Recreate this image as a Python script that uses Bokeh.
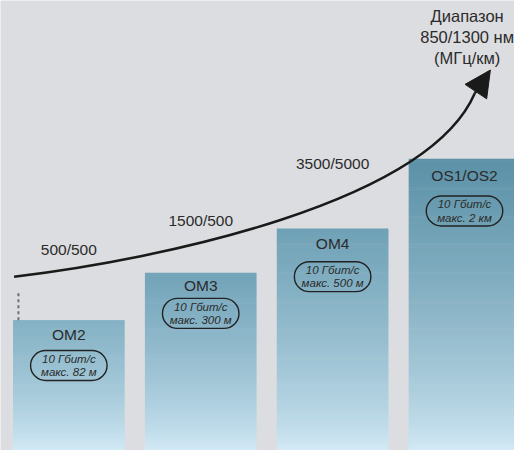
from bokeh.plotting import figure
from bokeh.models import Range1d, Arrow, NormalHead, ColumnDataSource
from bokeh.core.properties import value
from bokeh.embed import file_html
from bokeh.resources import INLINE

# ---------------- data ----------------
categories = ["OM2", "OM3", "OM4", "OS1/OS2"]
bar_heights = [135, 184, 230, 302]
bandwidth = ["500/500", "1500/500", "3500/5000"]
rate = ["10 Гбит/с", "10 Гбит/с", "10 Гбит/с", "10 Гбит/с"]
reach = ["макс. 82 м", "макс. 300 м", "макс. 500 м", "макс. 2 км"]
header = "Диапазон\n850/1300 нм\n(МГц/км)"

# ---------------- layout / style ----------------
label_offset = [15, 13, 16, 17]
pill_offset = [47, 42, 50, 54]
bandwidth_y = [208, 238, 297]
top_colors = [(131, 177, 196), (114, 163, 184), (111, 161, 182), (91, 145, 167)]
bottom_color = (214, 236, 248)
BG = "#dcdde0"
INK = "#2b2b2b"
FONT = "Liberation Sans"

W, H = 514, 450
p = figure(width=W, height=H, x_range=Range1d(-0.518, 3.379), y_range=Range1d(0, 466),
           output_backend="svg", toolbar_location=None, min_border=0)
p.axis.visible = False
p.grid.visible = False
p.outline_line_color = None
p.background_fill_color = BG
p.border_fill_color = BG

# gradient bars built from strips
bar_w = 0.846
step = 2.0
L, R, B, T, C = [], [], [], [], []
for i, h in enumerate(bar_heights):
    n = int(h // step)
    for k in range(n + 1):
        b = k * step
        t = min(h, b + step + 0.6)
        if b >= h:
            break
        f = ((b + step / 2) / h) ** 0.7
        f = min(f, 1.0)
        col = tuple(int(round(bottom_color[j] + (top_colors[i][j] - bottom_color[j]) * f)) for j in range(3))
        L.append(i - bar_w / 2)
        R.append(i + bar_w / 2)
        B.append(b)
        T.append(t)
        C.append("#%02x%02x%02x" % col)
p.quad(left="l", right="r", bottom="b", top="t", fill_color="c", line_color=None,
       source=ColumnDataSource(dict(l=L, r=R, b=B, t=T, c=C)))

xs = list(range(len(categories)))
lab_y = [h - o for h, o in zip(bar_heights, label_offset)]
pill_y = [h - o for h, o in zip(bar_heights, pill_offset)]

p.text(x=xs, y=lab_y, text=categories, text_align="center", text_baseline="middle",
       text_font=value(FONT), text_font_size="15.5px", text_color=INK)

pill_hw = 0.29
pill_hh = 15.5
p.quad(left=[x - pill_hw for x in xs], right=[x + pill_hw for x in xs],
       bottom=[y - pill_hh for y in pill_y], top=[y + pill_hh for y in pill_y],
       fill_color=None, line_color="#222222", line_width=1.4, border_radius=15)
p.text(x=xs, y=[y + 7 for y in pill_y], text=rate, text_align="center", text_baseline="middle",
       text_font=value(FONT), text_font_size="11.5px", text_font_style="italic", text_color=INK)
p.text(x=xs, y=[y - 7 for y in pill_y], text=reach, text_align="center", text_baseline="middle",
       text_font=value(FONT), text_font_size="11.5px", text_font_style="italic", text_color=INK)

# trend curve with arrow
p.bezier(x0=[-0.415], y0=[180], x1=[3.078], y1=[370], cx0=[0.688], cy0=[198],
         cx1=[2.718], cy1=[256], line_color="#1a1a1a", line_width=2.5)
p.add_layout(Arrow(x_start=3.078, y_start=370, x_end=3.196, y_end=394,
                   line_color="#1a1a1a", line_width=2.5,
                   end=NormalHead(size=26, fill_color="#1a1a1a", line_color="#1a1a1a")))

# dotted marker above first bar
p.segment(x0=[-0.382], y0=[bar_heights[0]], x1=[-0.382], y1=[166],
          line_color="#6e6e6e", line_width=2, line_dash="3 3")

p.text(x=xs[:3], y=bandwidth_y, text=bandwidth, text_align="center", text_baseline="middle",
       text_font=value(FONT), text_font_size="15.5px", text_color=INK)

p.text(x=[3.02], y=[428], text=[header], text_align="center", text_baseline="middle",
       text_font=value(FONT), text_font_size="16.5px", text_line_height=1.15, text_color=INK)

open("out.html", "w").write(file_html(p, INLINE))
